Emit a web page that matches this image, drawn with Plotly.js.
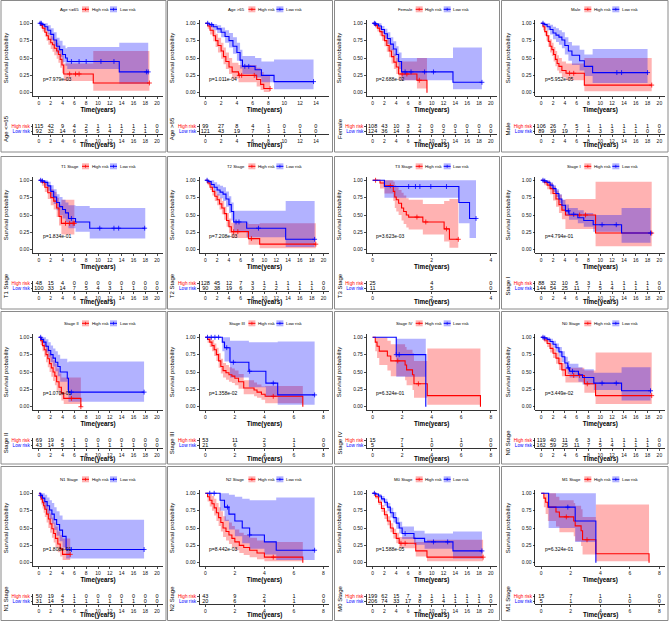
<!DOCTYPE html>
<html><head><meta charset="utf-8">
<script src="https://cdn.plot.ly/plotly-3.0.1.min.js"></script>
<style>html,body{margin:0;padding:0;background:#fff}#chart{width:669px;height:621px}</style>
</head><body><div id="chart"></div>
<script>
// ================= DATA =================
const panelTitles = ['Age <=65','Age >65','Female','Male','T1 Stage','T2 Stage','T3 Stage','Stage I',
  'Stage II','Stage III','Stage IV','N0 Stage','N1 Stage','N2 Stage','M0 Stage','M1 Stage'];
const pValues = ['p=7.979e-03','p=1.011e-04','p=2.688e-02','p=5.952e-05','p=1.834e-01','p=7.208e-03',
  'p=3.623e-03','p=4.794e-01','p=1.070e-01','p=1.358e-02','p=6.324e-01','p=3.449e-02',
  'p=1.808e-01','p=8.442e-03','p=1.588e-05','p=6.324e-01'];
const timeLimit = [20,14.96,20,20,20,20,4,20,20,8,8,20,20,8,20,8];
const breakMax  = [20,14,20,20,20,20,4,20,20,8,8,20,20,8,20,8];
const breakStep = [2,2,2,2,2,2,2,2,2,2,2,2,2,2,2,2];
const riskHigh = [
  [115,42,9,4,2,1,1,1,1,1,0],[99,27,8,4,1,0,0,0],[108,43,10,3,2,0,0,0,0,0,0],[106,26,7,5,1,1,1,1,1,1,0],
  [48,15,4,0,0,0,0,0,0,0,0],[128,45,12,7,3,1,1,1,1,1,0],[25,4,0],[88,32,10,5,3,1,1,1,1,1,0],
  [69,19,4,1,0,0,0,0,0,0,0],[53,11,2,1,0],[15,7,1,1,0],[119,40,11,6,3,1,1,1,1,1,0],
  [50,19,4,1,0,0,0,0,0,0,0],[43,9,2,1,0],[199,62,15,7,3,1,1,1,1,1,0],[15,7,1,1,0]];
const riskLow = [
  [92,32,14,6,5,5,4,2,2,1,0],[121,43,19,7,3,1,1,0],[124,36,14,6,4,3,2,1,1,1,0],[89,39,19,7,4,3,3,1,1,0,0],
  [100,33,14,7,5,4,3,1,1,0,0],[90,38,19,6,3,2,2,1,1,1,0],[11,5,0],[144,54,25,11,7,5,4,1,1,1,0],
  [43,14,5,1,1,1,1,1,1,0,0],[21,6,3,1,0],[5,1,0,0,0],[162,59,25,11,7,5,4,1,1,1,0],
  [31,14,5,1,1,1,1,1,1,0,0],[20,6,4,1,0],[206,74,33,17,8,5,4,1,1,1,0],[5,1,0,0,0]];

// Kaplan-Meier curves (time, survival, 95% CI lower/upper, censored times)
const kmAgeLe65High = {time:[0,0.3,0.6,1.0,1.3,1.6,2.0,2.3,2.6,3.0,3.3,3.6,3.9,4.2,9.2,18.7],
  surv:[1,0.97,0.93,0.87,0.82,0.77,0.72,0.69,0.64,0.6,0.55,0.48,0.4,0.27,0.14,0.14],
  lower:[1,0.93,0.88,0.81,0.75,0.69,0.63,0.59,0.54,0.49,0.43,0.36,0.28,0.17,0.03,0.03],
  upper:[1,1,0.98,0.94,0.9,0.86,0.82,0.8,0.76,0.72,0.68,0.62,0.55,0.42,0.6,0.6], censor:[5.2,6.2,6.8,18.7]};
const kmAgeLe65Low = {time:[0,0.5,1.0,1.5,2.0,2.5,3.0,3.5,4.0,4.5,4.8,13.6,18.5],
  surv:[1,0.98,0.95,0.9,0.84,0.76,0.67,0.62,0.55,0.5,0.45,0.30,0.30],
  lower:[1,0.95,0.9,0.84,0.76,0.67,0.57,0.51,0.44,0.39,0.34,0.13,0.13],
  upper:[1,1,1,0.97,0.93,0.87,0.79,0.75,0.68,0.64,0.66,0.72,0.72], censor:[0.2,0.4,5.5,6.8,8.0,10.5,12.7,18.2,18.5]};
const kmAgeGt65High = {time:[0,0.3,0.6,1.0,1.3,1.6,2.0,2.3,2.6,3.0,3.4,4.2,6.5,7.0,7.4,8.2],
  surv:[1,0.96,0.9,0.82,0.75,0.68,0.6,0.52,0.45,0.37,0.3,0.25,0.19,0.12,0.06,0.06],
  lower:[1,0.92,0.84,0.74,0.66,0.58,0.49,0.41,0.34,0.27,0.2,0.15,0.09,0.04,0.01,0.01],
  upper:[1,1,0.96,0.9,0.85,0.79,0.72,0.65,0.58,0.5,0.43,0.4,0.36,0.3,0.24,0.24], censor:[4.3,4.6,6.2,8.2]};
const kmAgeGt65Low = {time:[0,0.5,1.0,1.5,2.0,2.5,3.0,3.5,4.0,4.4,4.7,6.3,7.1,8.7,13.7],
  surv:[1,0.98,0.95,0.92,0.87,0.81,0.75,0.67,0.58,0.47,0.38,0.33,0.25,0.16,0.16],
  lower:[1,0.95,0.9,0.86,0.8,0.72,0.65,0.56,0.46,0.35,0.27,0.22,0.15,0.05,0.05],
  upper:[1,1,0.99,0.97,0.94,0.9,0.86,0.8,0.72,0.62,0.53,0.5,0.45,0.48,0.48], censor:[0.3,0.8,5.0,5.5,13.7]};
const kmFemaleHigh = {time:[0,0.4,0.8,1.2,1.6,2.0,2.4,2.8,3.2,3.6,4.0,4.4,7.5,9.2],
  surv:[1,0.97,0.93,0.88,0.82,0.75,0.68,0.6,0.52,0.44,0.37,0.27,0.18,0],
  lower:[1,0.94,0.88,0.82,0.75,0.67,0.59,0.51,0.42,0.34,0.27,0.18,0.06,0],
  upper:[1,1,0.98,0.94,0.89,0.84,0.78,0.7,0.63,0.56,0.5,0.45,0.5,0], censor:[5.0,5.8,7.9]};
const kmFemaleLow = {time:[0,0.5,1.0,1.5,2.0,2.5,3.0,3.5,4.0,4.4,4.9,13.6,18.5],
  surv:[1,0.99,0.96,0.91,0.85,0.78,0.7,0.63,0.55,0.45,0.30,0.15,0.15],
  lower:[1,0.96,0.92,0.86,0.78,0.7,0.61,0.53,0.44,0.34,0.18,0.05,0.05],
  upper:[1,1,1,0.96,0.92,0.87,0.8,0.74,0.67,0.58,0.5,0.65,0.65], censor:[0.3,0.5,5.5,6.5,8.8,10.3,18.5]};
const kmMaleHigh = {time:[0,0.3,0.6,0.9,1.2,1.5,1.8,2.1,2.4,2.7,3.0,3.5,4.2,7.3,18.7],
  surv:[1,0.95,0.88,0.82,0.74,0.67,0.62,0.55,0.48,0.42,0.38,0.32,0.28,0.11,0.11],
  lower:[1,0.9,0.82,0.75,0.66,0.58,0.53,0.45,0.38,0.32,0.28,0.22,0.18,0.02,0.02],
  upper:[1,1,0.95,0.9,0.83,0.77,0.72,0.66,0.6,0.54,0.5,0.45,0.42,0.5,0.5], censor:[4.8,5.5,18.7]};
const kmMaleLow = {time:[0,0.5,1.0,1.5,2.0,2.5,3.0,3.5,4.0,4.6,5.2,6.5,7.3,8.7,18.0],
  surv:[1,0.98,0.95,0.91,0.86,0.83,0.8,0.76,0.68,0.6,0.54,0.46,0.38,0.29,0.29],
  lower:[1,0.95,0.9,0.84,0.77,0.73,0.69,0.64,0.55,0.46,0.4,0.32,0.24,0.14,0.14],
  upper:[1,1,1,0.98,0.95,0.93,0.9,0.87,0.8,0.73,0.68,0.62,0.55,0.63,0.63], censor:[0.3,12.8,13.6,18.0]};
const kmT1High = {time:[0,0.5,1.0,1.5,2.0,2.5,3.0,3.4,3.8,6.0],
  surv:[1,0.97,0.9,0.82,0.75,0.7,0.6,0.48,0.38,0.38],
  lower:[1,0.92,0.83,0.73,0.64,0.58,0.47,0.35,0.22,0.22],
  upper:[1,1,0.97,0.92,0.87,0.83,0.75,0.65,0.72,0.72], censor:[4.5,5.2,5.8,6.0]};
const kmT1Low = {time:[0,0.5,1.0,1.5,2.0,2.5,3.0,3.5,4.0,4.5,5.0,6.2,8.6,18.0],
  surv:[1,0.99,0.97,0.92,0.84,0.76,0.68,0.62,0.58,0.53,0.45,0.4,0.31,0.31],
  lower:[1,0.96,0.92,0.85,0.75,0.66,0.57,0.5,0.45,0.4,0.31,0.26,0.16,0.16],
  upper:[1,1,1,0.98,0.93,0.87,0.8,0.76,0.72,0.68,0.64,0.63,0.6,0.6], censor:[0.3,0.6,5.5,10.3,12.7,13.5,17.9]};
const kmT2High = {time:[0,0.4,0.8,1.2,1.6,2.0,2.4,2.8,3.2,3.6,4.0,4.4,7.3,9.2,18.7],
  surv:[1,0.96,0.9,0.84,0.77,0.72,0.66,0.6,0.52,0.42,0.33,0.26,0.16,0.08,0.08],
  lower:[1,0.93,0.86,0.78,0.7,0.64,0.58,0.51,0.43,0.33,0.24,0.17,0.07,0.02,0.02],
  upper:[1,1,0.95,0.9,0.84,0.8,0.75,0.7,0.62,0.53,0.45,0.39,0.37,0.38,0.38], censor:[4.8,5.5,7.8,18.7]};
const kmT2Low = {time:[0,0.5,1.0,1.5,2.0,2.5,3.0,3.5,4.0,4.4,4.8,7.0,13.6,18.5],
  surv:[1,0.98,0.94,0.9,0.86,0.83,0.8,0.73,0.65,0.55,0.4,0.31,0.15,0.15],
  lower:[1,0.95,0.89,0.84,0.78,0.74,0.7,0.62,0.53,0.42,0.27,0.18,0.04,0.04],
  upper:[1,1,1,0.97,0.94,0.92,0.9,0.84,0.77,0.68,0.56,0.56,0.7,0.7], censor:[0.3,5.2,5.7,9.0,18.5]};
const kmT3High = {time:[0,0.25,0.4,0.7,0.75,0.8,0.88,0.98,1.05,1.14,1.22,1.7,2.42,2.6,2.9],
  surv:[1,0.96,0.92,0.84,0.76,0.72,0.67,0.6,0.55,0.5,0.47,0.4,0.3,0.15,0.15],
  lower:[1,0.88,0.81,0.7,0.6,0.55,0.5,0.42,0.37,0.32,0.29,0.22,0.12,0.03,0.03],
  upper:[1,1,1,0.98,0.93,0.9,0.86,0.82,0.78,0.74,0.72,0.66,0.7,0.73,0.73], censor:[0.1,0.6,1.5,1.8,2.5,2.9]};
const kmT3Low = {time:[0,0.4,2.92,3.28,3.5], surv:[1,0.91,0.68,0.45,0.45],
  lower:[1,0.75,0.38,0.17,0.17], upper:[1,1,1,1,1], censor:[1.22,1.45,1.6,1.97,2.5,3.5]};
const kmStageIHigh = {time:[0,0.5,1.0,1.5,2.0,2.5,3.0,3.5,4.1,9.2,18.7],
  surv:[1,0.97,0.93,0.88,0.81,0.73,0.65,0.57,0.5,0.24,0.24],
  lower:[1,0.93,0.87,0.8,0.71,0.62,0.53,0.44,0.3,0.05,0.05],
  upper:[1,1,0.99,0.96,0.91,0.85,0.79,0.72,0.73,0.98,0.98], censor:[6.5,7.5,18.7]};
const kmStageILow = {time:[0,0.5,1.0,1.5,2.0,2.5,3.0,3.5,4.1,4.7,6.2,7.2,8.8,13.6,18.5],
  surv:[1,0.99,0.97,0.93,0.88,0.81,0.73,0.64,0.56,0.51,0.46,0.42,0.36,0.24,0.24],
  lower:[1,0.97,0.94,0.89,0.83,0.76,0.67,0.58,0.49,0.43,0.38,0.33,0.26,0.1,0.1],
  upper:[1,1,1,0.97,0.93,0.87,0.8,0.72,0.65,0.6,0.57,0.53,0.5,0.6,0.6], censor:[0.3,0.6,4.6,5.5,10.3,12.7,18.5]};
const kmStageIIHigh = {time:[0,0.3,0.6,0.9,1.2,1.5,1.8,2.1,2.4,2.7,3.0,3.4,3.8,4.2,7.1],
  surv:[1,0.95,0.88,0.82,0.75,0.69,0.62,0.56,0.5,0.44,0.36,0.28,0.2,0.12,0],
  lower:[1,0.89,0.8,0.72,0.64,0.57,0.5,0.43,0.37,0.31,0.23,0.16,0.09,0.04,0],
  upper:[1,1,0.97,0.93,0.88,0.83,0.77,0.72,0.67,0.62,0.55,0.48,0.42,0.42,0], censor:[5.5,7.1]};
const kmStageIILow = {time:[0,0.4,0.8,1.2,1.6,2.0,2.4,2.8,3.2,3.6,4.8,5.0,17.8],
  surv:[1,0.97,0.93,0.87,0.81,0.75,0.7,0.64,0.58,0.5,0.41,0.21,0.21],
  lower:[1,0.92,0.86,0.78,0.71,0.64,0.58,0.51,0.44,0.36,0.24,0.07,0.07],
  upper:[1,1,1,0.97,0.93,0.88,0.84,0.8,0.75,0.69,0.64,0.65,0.65], censor:[0.3,5.5,17.8]};
const kmStageIIIHigh = {time:[0,0.15,0.3,0.45,0.6,0.75,0.9,1.05,1.2,1.4,1.6,1.8,2.0,2.25,2.6,3.3,3.5,3.8,4.05,6.6],
  surv:[1,0.97,0.93,0.88,0.82,0.75,0.66,0.58,0.52,0.49,0.46,0.44,0.41,0.36,0.27,0.24,0.21,0.18,0.15,0],
  lower:[1,0.92,0.86,0.8,0.73,0.66,0.56,0.48,0.42,0.39,0.36,0.34,0.31,0.26,0.18,0.15,0.13,0.1,0.05,0],
  upper:[1,1,1,0.96,0.91,0.85,0.77,0.69,0.63,0.6,0.57,0.55,0.52,0.47,0.38,0.35,0.32,0.29,0.3,0], censor:[4.6]};
const kmStageIIILow = {time:[0,1.15,1.3,1.67,2.95,4.1,4.9,7.4], surv:[1,0.93,0.85,0.64,0.51,0.34,0.17,0.17],
  lower:[1,0.8,0.65,0.42,0.28,0.14,0.03,0.03], upper:[1,1,1,0.95,0.93,0.93,0.94,0.94],
  censor:[0.15,0.4,0.65,0.9,1.45,1.9,3.0,4.6,7.4]};
const kmStageIVHigh = {time:[0,0.18,0.3,0.45,1.0,1.23,2.2,2.3,2.7,2.8,3.7,7.3],
  surv:[1,0.93,0.87,0.8,0.73,0.66,0.6,0.53,0.46,0.33,0.16,0],
  lower:[1,0.8,0.7,0.6,0.52,0.44,0.38,0.31,0.24,0.13,0.03,0],
  upper:[1,1,1,1,0.95,0.9,0.86,0.82,0.77,0.66,0.84,0], censor:[1.7,3.1]};
const kmStageIVLow = {time:[0,1.6,3.6], surv:[1,0.75,0], lower:[1,0.43,0], upper:[1,0.98,0], censor:[1.6,1.8]};
const kmN0High = {time:[0,0.5,1.0,1.5,2.0,2.5,3.0,3.5,4.1,7.3,9.2,18.7],
  surv:[1,0.96,0.91,0.84,0.77,0.7,0.62,0.53,0.45,0.33,0.16,0.16],
  lower:[1,0.93,0.86,0.78,0.7,0.62,0.53,0.44,0.35,0.2,0.04,0.04],
  upper:[1,1,0.96,0.9,0.84,0.78,0.71,0.63,0.56,0.52,0.78,0.78], censor:[5.5,6.5,7.8,18.7]};
const kmN0Low = {time:[0,0.5,1.0,1.5,2.0,2.5,3.0,3.5,4.0,4.5,4.8,6.3,7.0,8.9,13.6,18.5],
  surv:[1,0.99,0.97,0.94,0.9,0.85,0.79,0.72,0.63,0.56,0.51,0.46,0.42,0.34,0.23,0.23],
  lower:[1,0.97,0.94,0.9,0.85,0.79,0.72,0.64,0.54,0.47,0.42,0.36,0.32,0.24,0.09,0.09],
  upper:[1,1,1,0.98,0.95,0.91,0.86,0.8,0.72,0.66,0.62,0.57,0.54,0.49,0.57,0.57], censor:[0.3,0.6,4.6,5.3,10.3,12.7,18.5]};
const kmN1High = {time:[0,0.2,0.4,0.6,0.8,1.0,1.3,1.6,1.9,2.2,2.5,2.8,3.2,3.6,4.0,5.3],
  surv:[1,0.96,0.92,0.87,0.82,0.77,0.7,0.63,0.56,0.49,0.42,0.35,0.27,0.2,0.12,0.12],
  lower:[1,0.9,0.84,0.78,0.72,0.66,0.58,0.5,0.43,0.36,0.29,0.22,0.15,0.09,0.04,0.04],
  upper:[1,1,0.98,0.95,0.92,0.88,0.83,0.77,0.71,0.65,0.58,0.52,0.45,0.4,0.35,0.35], censor:[5.3]};
const kmN1Low = {time:[0,0.3,0.6,1.0,1.4,1.8,2.2,2.6,3.0,3.5,4.0,4.6,17.8],
  surv:[1,0.97,0.93,0.88,0.82,0.76,0.7,0.62,0.55,0.47,0.38,0.19,0.19],
  lower:[1,0.91,0.84,0.77,0.7,0.63,0.56,0.47,0.39,0.31,0.22,0.06,0.06],
  upper:[1,1,1,0.98,0.94,0.9,0.86,0.8,0.74,0.68,0.62,0.62,0.62], censor:[0.3,5.5,17.8]};
const kmN2High = {time:[0,0.15,0.3,0.45,0.6,0.75,0.9,1.05,1.2,1.4,1.6,1.8,2.0,2.3,2.6,3.0,3.5,4.0,6.6],
  surv:[1,0.95,0.9,0.85,0.79,0.72,0.65,0.58,0.5,0.45,0.4,0.35,0.3,0.25,0.22,0.18,0.14,0.08,0],
  lower:[1,0.88,0.81,0.75,0.68,0.6,0.53,0.45,0.37,0.32,0.27,0.22,0.18,0.14,0.11,0.08,0.05,0.02,0],
  upper:[1,1,1,0.96,0.92,0.86,0.8,0.74,0.67,0.62,0.58,0.53,0.48,0.43,0.4,0.36,0.32,0.3,0], censor:[4.6]};
const kmN2Low = {time:[0,1.0,1.3,1.6,2.0,2.5,3.0,4.0,4.8,7.4], surv:[1,0.9,0.8,0.7,0.6,0.5,0.4,0.3,0.18,0.18],
  lower:[1,0.75,0.6,0.48,0.38,0.28,0.2,0.12,0.04,0.04], upper:[1,1,1,0.98,0.95,0.92,0.9,0.9,0.94,0.94],
  censor:[0.3,0.6,1.5,3.0,7.4]};
const kmM0High = {time:[0,0.5,1.0,1.5,2.0,2.5,3.0,3.5,4.0,4.5,7.3,9.2,18.7],
  surv:[1,0.95,0.87,0.78,0.69,0.6,0.5,0.42,0.35,0.28,0.17,0.08,0.08],
  lower:[1,0.92,0.83,0.73,0.63,0.54,0.44,0.35,0.28,0.21,0.09,0.02,0.02],
  upper:[1,0.98,0.91,0.83,0.75,0.67,0.57,0.49,0.43,0.37,0.3,0.33,0.33], censor:[4.8,5.5,18.7]};
const kmM0Low = {time:[0,0.5,1.0,1.5,2.0,2.5,3.0,3.5,4.0,4.5,5.0,7.0,8.8,13.6,18.5],
  surv:[1,0.99,0.96,0.92,0.87,0.8,0.72,0.65,0.57,0.5,0.42,0.35,0.3,0.17,0.17],
  lower:[1,0.97,0.93,0.88,0.82,0.74,0.65,0.58,0.49,0.42,0.34,0.26,0.2,0.06,0.06],
  upper:[1,1,0.99,0.96,0.92,0.86,0.79,0.73,0.65,0.59,0.52,0.46,0.42,0.45,0.45], censor:[0.3,5.5,10.3,12.7,18.5]};
const kmM1High = {time:[0,0.18,0.3,0.45,1.0,1.23,2.2,2.3,2.7,2.8,3.7,7.3],
  surv:[1,0.93,0.87,0.8,0.73,0.66,0.6,0.53,0.46,0.33,0.13,0],
  lower:[1,0.8,0.7,0.6,0.52,0.44,0.38,0.31,0.24,0.12,0.02,0],
  upper:[1,1,1,1,0.95,0.9,0.86,0.82,0.77,0.66,0.84,0], censor:[1.7,3.1]};
const kmM1Low = {time:[0,0.5,2.3,3.7], surv:[1,0.8,0.6,0], lower:[1,0.5,0.3,0], upper:[1,1,1,0], censor:[1.8]};

const curvesHigh = [kmAgeLe65High,kmAgeGt65High,kmFemaleHigh,kmMaleHigh,kmT1High,kmT2High,kmT3High,kmStageIHigh,
  kmStageIIHigh,kmStageIIIHigh,kmStageIVHigh,kmN0High,kmN1High,kmN2High,kmM0High,kmM1High];
const curvesLow = [kmAgeLe65Low,kmAgeGt65Low,kmFemaleLow,kmMaleLow,kmT1Low,kmT2Low,kmT3Low,kmStageILow,
  kmStageIILow,kmStageIIILow,kmStageIVLow,kmN0Low,kmN1Low,kmN2Low,kmM0Low,kmM1Low];
const groupNames = ['High risk','Low risk'];

// ================= LAYOUT / STYLE =================
const W = 669, H = 621;
const colOff = [0, 166.4, 333.7, 502.3];
const rowOff = [0, 157, 314, 470];
const borderX = [[1,166],[167.5,332.5],[334.5,499.5],[501.5,668]];
const borderY = [[0.5,152],[156.5,309],[311.5,464],[466.5,620.5]];
const PL = 33, PW = 130;
const KM_TOP = 19.8, KM_BOT = 96.2, RT_TOP = 124, RT_BOT = 134;
const RED = '#FF0000', BLUE = '#0000FF';
const RED_FILL = 'rgba(255,0,0,0.3)', BLUE_FILL = 'rgba(0,0,255,0.3)';
const FONT = 'Liberation Sans, Arial, sans-serif';
const px = v => v / W, py = v => 1 - v / H;

function stepAt(c, t) { let v = c.surv[0]; for (let k = 0; k < c.time.length; k++) { if (c.time[k] <= t) v = c.surv[k]; } return v; }
function axName(n, l) { return n === 1 ? l + 'axis' : l + 'axis' + n; }
function axRef(n, l) { return n === 1 ? l : l + n; }

const traces = [], annotations = [], shapes = [];
const layout = {width: W, height: H, margin: {l:0, r:0, t:0, b:0}, showlegend: false,
  paper_bgcolor: '#fff', plot_bgcolor: 'rgba(0,0,0,0)', font: {family: FONT, color: '#000'}};

panelTitles.forEach((title, i) => {
  const col = i % 4, row = Math.floor(i / 4);
  const ox = colOff[col], oy = rowOff[row];
  const nK = 2 * i + 1, nR = 2 * i + 2;
  const xK = axRef(nK, 'x'), yK = axRef(nK, 'y'), xR = axRef(nR, 'x'), yR = axRef(nR, 'y');
  const xl = timeLimit[i];
  const breaks = []; for (let b = 0; b <= breakMax[i] + 1e-9; b += breakStep[i]) breaks.push(b);
  const xdom = [px(ox + PL), px(ox + PL + PW)];
  const xRange = [-0.05 * xl, 1.05 * xl];
  const axCommon = {showline: true, linecolor: '#000', linewidth: 0.8, ticks: 'outside', ticklen: 2,
    tickwidth: 0.7, tickcolor: '#000', showgrid: false, zeroline: false, tickfont: {size: 5, color: '#111'}};

  layout[axName(nK, 'x')] = Object.assign({}, axCommon, {domain: xdom, anchor: yK, range: xRange, tickvals: breaks,
    title: {text: 'Time(years)', font: {size: 6.3, weight: 'bold'}, standoff: 1}});
  layout[axName(nK, 'y')] = Object.assign({}, axCommon, {domain: [py(oy + KM_BOT), py(oy + KM_TOP)], anchor: xK,
    range: [-0.05, 1.05], tickvals: [0, 0.25, 0.5, 0.75, 1], tickformat: '.2f',
    title: {text: 'Survival probability', font: {size: 6}, standoff: 10}});
  layout[axName(nR, 'x')] = Object.assign({}, axCommon, {domain: xdom, anchor: yR, range: xRange, tickvals: breaks});
  layout[axName(nR, 'y')] = Object.assign({}, axCommon, {domain: [py(oy + RT_BOT), py(oy + RT_TOP)], anchor: xR,
    range: [0.41, 2.59], tickvals: [1, 2], ticklen: 1.5,
    ticktext: ['<span style="color:' + BLUE + '">Low risk</span>', '<span style="color:' + RED + '">High risk</span>'],
    tickfont: {size: 4.7}, title: {text: title, font: {size: 6}, standoff: 2}});

  const groups = [[curvesHigh[i], RED, RED_FILL], [curvesLow[i], BLUE, BLUE_FILL]];
  // confidence bands
  groups.forEach(([c, lc, fc]) => {
    traces.push({type: 'scatter', x: c.time, y: c.lower, xaxis: xK, yaxis: yK, mode: 'lines',
      line: {shape: 'hv', width: 0}, hoverinfo: 'skip'});
    traces.push({type: 'scatter', x: c.time, y: c.upper, xaxis: xK, yaxis: yK, mode: 'lines', fill: 'tonexty',
      fillcolor: fc, line: {shape: 'hv', width: 0}, hoverinfo: 'skip'});
  });
  // survival curves + censor marks
  groups.forEach(([c, lc], g) => {
    traces.push({type: 'scatter', x: c.time, y: c.surv, xaxis: xK, yaxis: yK, mode: 'lines', name: groupNames[g],
      line: {shape: 'hv', width: 1.1, color: lc}});
    traces.push({type: 'scatter', x: c.censor, y: c.censor.map(t => stepAt(c, t)), xaxis: xK, yaxis: yK,
      mode: 'markers', marker: {symbol: 'cross-thin', size: 3.5, line: {width: 0.8, color: lc}}, hoverinfo: 'skip',
      cliponaxis: false});
  });
  // number-at-risk table
  [[riskHigh[i], 2], [riskLow[i], 1]].forEach(([vals, yv]) => {
    traces.push({type: 'scatter', x: breaks, y: breaks.map(() => yv), xaxis: xR, yaxis: yR, mode: 'text',
      text: vals.map(String), textposition: 'middle center', textfont: {size: 5.5, color: '#000'},
      cliponaxis: false, hoverinfo: 'skip'});
  });
  // risk-table x title
  annotations.push({xref: 'paper', yref: 'paper', x: px(ox + PL + PW / 2), y: py(oy + 145), text: 'Time(years)',
    showarrow: false, xanchor: 'center', yanchor: 'middle', font: {size: 6.3, weight: 'bold'}, borderpad: 0});
  // p-value
  annotations.push({xref: xK, yref: yK, x: 0.015 * xl, y: 0.2, text: pValues[i], showarrow: false,
    xanchor: 'left', yanchor: 'middle', font: {size: 5}});
  // legend (ggplot-style keys)
  const cx = ox + PL + PW / 2, ly = oy + 9.3;
  annotations.push({xref: 'paper', yref: 'paper', x: px(cx - 18), y: py(ly), text: title, showarrow: false,
    xanchor: 'right', yanchor: 'middle', font: {size: 4.3}, borderpad: 0});
  [[cx - 16, RED, RED_FILL, groupNames[0]], [cx + 12, BLUE, BLUE_FILL, groupNames[1]]].forEach(([kx, lc, fc, nm]) => {
    shapes.push({type: 'rect', xref: 'paper', yref: 'paper', x0: px(kx), x1: px(kx + 7), y0: py(ly + 3), y1: py(ly - 3),
      fillcolor: fc, line: {width: 0}});
    shapes.push({type: 'line', xref: 'paper', yref: 'paper', x0: px(kx), x1: px(kx + 7), y0: py(ly), y1: py(ly),
      line: {color: lc, width: 1}});
    shapes.push({type: 'line', xref: 'paper', yref: 'paper', x0: px(kx + 3.5), x1: px(kx + 3.5), y0: py(ly - 1.5), y1: py(ly + 1.5),
      line: {color: lc, width: 0.7}});
    annotations.push({xref: 'paper', yref: 'paper', x: px(kx + 8.5), y: py(ly), text: nm, showarrow: false,
      xanchor: 'left', yanchor: 'middle', font: {size: 4.3}, borderpad: 0});
  });
  // panel frame
  shapes.push({type: 'rect', xref: 'paper', yref: 'paper', x0: px(borderX[col][0]), x1: px(borderX[col][1]),
    y0: py(borderY[row][1]), y1: py(borderY[row][0]), line: {color: '#8a8a8a', width: 1}, fillcolor: 'rgba(0,0,0,0)'});
});

layout.annotations = annotations;
layout.shapes = shapes;
Plotly.newPlot('chart', traces, layout, {staticPlot: true});
</script></body></html>
